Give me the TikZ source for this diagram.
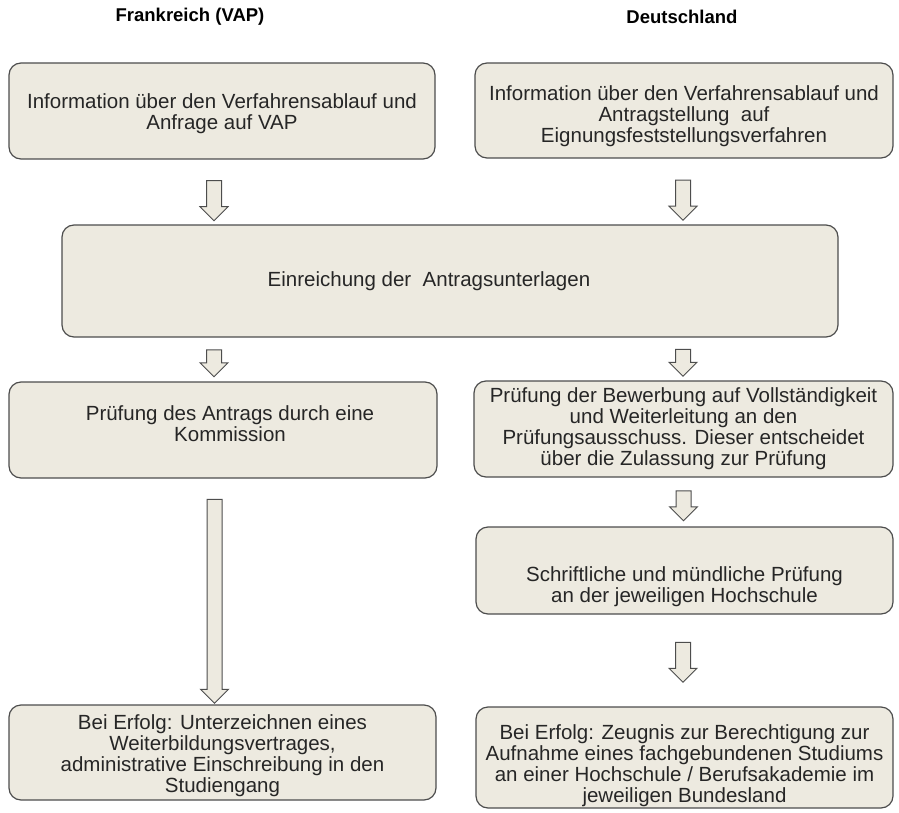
\documentclass[tikz,border=0pt]{standalone}
\usepackage{fontspec}
\setmainfont{Liberation Sans}
\usetikzlibrary{shapes.arrows,calc}
\definecolor{box-fill}{HTML}{EDEAE0}
\definecolor{box-line}{HTML}{4D4D4D}
\tikzset{
    rounded-box/.style = {draw=box-line, fill=box-fill, line width=1.2pt, rectangle, rounded corners=12pt, inner sep=0pt},
    box-text/.style = {align=center, inner sep=0pt, font=\fontsize{20.5}{21}\selectfont, text=black!85},
    column-title/.style = {font=\fontsize{18.5}{21}\selectfont\bfseries, inner sep=0pt},
    down-arrow/.style = {single arrow, draw=box-line, fill=box-fill, line width=1pt, shape border rotate=270, single arrow head extend=6.5pt, single arrow tip angle=90, inner sep=7pt},
}

\begin{document}
\begin{tikzpicture}[x=1pt,y=-1pt]
\useasboundingbox (0,0) rectangle (899,813);

% column titles
\node[column-title] (title-fr) at (190,17) {Frankreich (VAP)};
\node[column-title] (title-de) at (682,17) {Deutschland};

% boxes
\node[rounded-box, minimum width=426pt, minimum height=96pt] (info-fr) at (222,111) {};
\node[box-text] (info-fr-text) at ([yshift=-2.5pt]info-fr.center) {Information über den Verfahrensablauf und\\Anfrage auf VAP};

\node[rounded-box, minimum width=418pt, minimum height=95pt] (info-de) at (684,110.5) {};
\node[box-text] (info-de-text) at ([yshift=-5.5pt]info-de.center) {Information über den Verfahrensablauf und\\Antragstellung\ \ auf\\Eignungsfeststellungsverfahren};

\node[rounded-box, minimum width=776pt, minimum height=112pt] (einreichung) at (450,281) {};
\node[box-text] (einreichung-text) at ([xshift=-21pt]einreichung.center) {Einreichung der\ \ Antragsunterlagen};

\node[rounded-box, minimum width=428pt, minimum height=96pt] (pruefung-fr) at (223,430) {};
\node[box-text] (pruefung-fr-text) at ([xshift=7pt,yshift=6pt]pruefung-fr.center) {Prüfung des Antrags durch eine\\Kommission};

\node[rounded-box, minimum width=419pt, minimum height=96pt] (pruefung-de) at (683.5,429) {};
\node[box-text] (pruefung-de-text) at (pruefung-de.center) {Prüfung der Bewerbung auf Vollständigkeit\\und Weiterleitung an den\\Prüfungsausschuss. Dieser entscheidet\\über die Zulassung zur Prüfung};

\node[rounded-box, minimum width=417pt, minimum height=87pt] (pruefung-oral) at (684.5,570.5) {};
\node[box-text] (pruefung-oral-text) at ([yshift=-16.5pt]pruefung-oral.center) {Schriftliche und mündliche Prüfung\\an der jeweiligen Hochschule};

\node[rounded-box, minimum width=427pt, minimum height=95pt] (erfolg-fr) at (222.5,752.5) {};
\node[box-text] (erfolg-fr-text) at ([yshift=-3pt]erfolg-fr.center) {Bei Erfolg: Unterzeichnen eines\\Weiterbildungsvertrages,\\administrative Einschreibung in den\\Studiengang};

\node[rounded-box, minimum width=417pt, minimum height=101pt] (erfolg-de) at (684.5,757.5) {};
\node[box-text] (erfolg-de-text) at ([yshift=-8pt]erfolg-de.center) {Bei Erfolg: Zeugnis zur Berechtigung zur\\Aufnahme eines fachgebundenen Studiums\\an einer Hochschule / Berufsakademie im\\jeweiligen Bundesland};

% arrows
\node[down-arrow, minimum height=40pt] (arrow-fr-1) at ([xshift=-8pt,yshift=-5pt]$(info-fr.south)!.5!(info-fr.south |- einreichung.north)$) {};
\node[down-arrow, minimum height=40pt] (arrow-de-1) at ([xshift=-1pt,yshift=-5pt]$(info-de.south)!.5!(info-de.south |- einreichung.north)$) {};
\node[down-arrow, minimum height=27pt] (arrow-fr-2) at ([xshift=-9pt]$(pruefung-fr.north)!.5!(pruefung-fr.north |- einreichung.south)$) {};
\node[down-arrow, minimum height=27pt] (arrow-de-2) at ([xshift=-0.5pt]$(pruefung-de.north)!.5!(pruefung-de.north |- einreichung.south)$) {};
\node[down-arrow, minimum height=30pt] (arrow-de-3) at ([xshift=-0.5pt]$(pruefung-de.south)!.5!(pruefung-oral.north)$) {};
\node[down-arrow, minimum height=204pt] (arrow-fr-3) at ([xshift=-8.5pt,yshift=-6pt]$(pruefung-fr.south)!.5!(pruefung-fr.south |- erfolg-fr.north)$) {};
\node[down-arrow, minimum height=40pt] (arrow-de-4) at ([xshift=-1.5pt,yshift=2pt]$(pruefung-oral.south)!.5!(pruefung-oral.south |- erfolg-de.north)$) {};
\end{tikzpicture}
\end{document}
